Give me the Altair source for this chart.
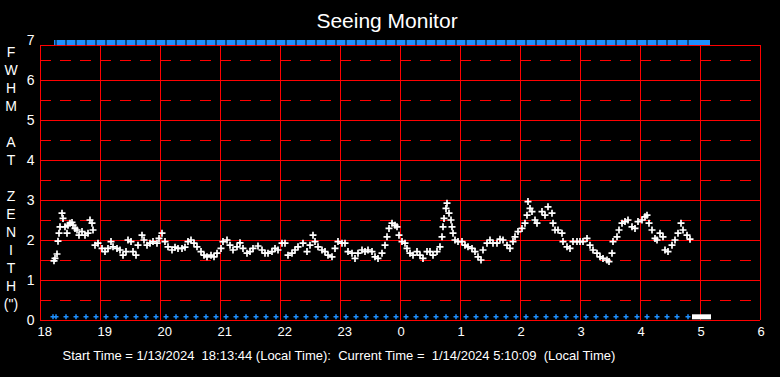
import altair as alt
import pandas as pd

# ---- data (minutes after 18:00, FWHM arcsec) ----
MINUTES = [14, 15, 17, 18, 19, 20, 22, 23, 25, 27, 28, 30, 32, 33, 35, 37, 39, 42, 45, 48,
           50, 52, 53, 55, 58, 62, 65, 68, 71, 73, 77, 80, 83, 86, 88, 91, 93, 96, 98, 102,
           104, 107, 110, 113, 117, 119, 122, 125, 128, 132, 135, 138, 142, 145, 148, 151, 154, 157, 161, 164,
           167, 171, 174, 177, 181, 183, 187, 190, 193, 197, 200, 203, 207, 210, 213, 218, 222, 225, 228, 232,
           235, 238, 242, 245, 248, 252, 255, 258, 263, 267, 270, 273, 275, 278, 282, 285, 288, 292, 295, 298,
           302, 305, 308, 312, 315, 318, 322, 325, 328, 332, 335, 338, 342, 345, 347, 349, 352, 355, 357, 359,
           362, 365, 367, 370, 373, 377, 380, 383, 387, 390, 393, 397, 400, 402, 403, 404, 406, 407, 409, 411,
           412, 413, 415, 418, 422, 425, 428, 432, 435, 438, 441, 443, 447, 450, 453, 457, 460, 463, 467, 470,
           473, 475, 478, 482, 485, 487, 488, 490, 492, 495, 497, 502, 505, 508, 512, 513, 515, 518, 522, 523,
           527, 530, 533, 537, 540, 543, 547, 550, 553, 557, 560, 563, 567, 569, 572, 573, 577, 579, 582, 585,
           588, 592, 595, 598, 602, 605, 607, 609, 612, 615, 617, 620, 623, 625, 628, 632, 635, 638, 641, 643,
           647, 650]
FWHM = [1.48, 1.54, 1.65, 1.97, 2.17, 2.33, 2.67, 2.54, 2.33, 2.17, 2.37, 2.42, 2.44, 2.37, 2.29, 2.25, 2.12, 2.21, 2.12, 2.17,
        2.50, 2.42, 2.25, 1.87, 1.92, 1.79, 1.71, 1.79, 1.96, 1.83, 1.79, 1.75, 1.62, 1.71, 2.00, 1.96, 1.71, 1.62, 1.87, 2.12,
        2.00, 1.87, 1.92, 1.96, 1.92, 2.04, 2.17, 1.96, 1.83, 1.75, 1.82, 1.79, 1.79, 1.82, 1.96, 2.00, 1.92, 1.83, 1.71, 1.62,
        1.58, 1.62, 1.58, 1.67, 1.79, 1.96, 2.00, 1.87, 1.75, 1.83, 1.93, 1.79, 1.67, 1.71, 1.79, 1.85, 1.75, 1.67, 1.67, 1.71,
        1.79, 1.75, 1.92, 1.92, 1.62, 1.67, 1.75, 1.83, 1.92, 1.71, 1.87, 2.12, 1.96, 1.83, 1.75, 1.71, 1.62, 1.58, 1.79, 1.96,
        1.92, 1.92, 1.71, 1.67, 1.54, 1.67, 1.75, 1.71, 1.75, 1.71, 1.58, 1.54, 1.67, 1.87, 2.08, 2.29, 2.42, 2.37, 2.33, 2.12,
        1.96, 1.92, 1.79, 1.67, 1.62, 1.71, 1.62, 1.54, 1.71, 1.71, 1.62, 1.71, 1.83, 2.08, 2.33, 2.54, 2.79, 2.92, 2.67, 2.50,
        2.33, 2.17, 2.00, 1.96, 1.96, 1.87, 1.83, 1.79, 1.71, 1.58, 1.50, 1.75, 1.92, 2.00, 1.92, 1.92, 2.02, 2.00, 1.87, 1.79,
        1.96, 2.08, 2.21, 2.29, 2.42, 2.62, 2.96, 2.79, 2.71, 2.50, 2.42, 2.71, 2.62, 2.83, 2.67, 2.42, 2.25, 2.25, 2.17, 1.96,
        1.83, 1.79, 1.96, 1.96, 1.96, 1.96, 2.04, 1.87, 1.75, 1.67, 1.58, 1.54, 1.50, 1.46, 1.67, 1.96, 2.08, 2.25, 2.42, 2.46,
        2.50, 2.33, 2.29, 2.46, 2.50, 2.58, 2.62, 2.42, 2.25, 2.04, 2.00, 2.17, 2.08, 1.75, 1.71, 1.87, 2.00, 2.17, 2.42, 2.25,
        2.12, 2.02]

BOTTOM_MARKS = [13, 16, 26, 36, 46, 56, 66, 76, 86, 96, 106, 116, 126, 136, 146, 156, 166, 176, 186, 196,
                206, 216, 226, 236, 246, 256, 266, 276, 286, 296, 306, 316, 326, 336, 346, 356, 366, 376, 386, 396,
                406, 416, 426, 436, 446, 456, 466, 476, 486, 496, 506, 516, 526, 536, 546, 556, 566, 576, 586, 597,
                607, 617, 627, 637, 648]
TOP_STATUS = [14, 670]
WHITE_STATUS = [652, 671]

HOURS = [18, 19, 20, 21, 22, 23, 24, 25, 26, 27, 28, 29, 30]
INT_LEVELS = [0, 1, 2, 3, 4, 5, 6]
HALF_LEVELS = [0.5, 1.5, 2.5, 3.5, 4.5, 5.5, 6.5]
Y_TICKS = [0, 1, 2, 3, 4, 5, 6, 7]
Y_TITLE = ["F", "W", "H", "M", "\u200b", "A", "T", "\u200b", "Z", "E", "N", "I", "T", "H", "(\")"]
BOTTOM_TEXT = ("Start Time = 1/13/2024\u00a0 18:13:44 (Local Time):\u00a0 Current Time =\u00a0 "
               "1/14/2024 5:10:09\u00a0 (Local Time)")
TITLE = "Seeing Monitor"

# ---- style constants ----
FRAME_TOP = 6.875
TOP_ROW = 6.94
BOTTOM_ROW = 0.08
RED = "#ff0000"
BLUE = "#1e90ff"
WHITE = "#ffffff"
FONT = "Liberation Sans"
CROSS = "M-1,0H1M0,-1V1"
VBAR = "M0,-1V1"


def hrs(m):
    return 18 + m / 60.0


xs = alt.Scale(domain=[18, 30], nice=False, zero=False)
ys = alt.Scale(domain=[0, 7], nice=False, zero=False)

X_AXIS = alt.Axis(
    values=HOURS, labelExpr="'' + (datum.value >= 24 ? datum.value - 24 : datum.value)",
    grid=False, ticks=False, tickSize=0, domain=False,
    labelColor=WHITE, labelFont=FONT, labelFontSize=13, labelAlign="left", labelOffset=-3,
    labelBaseline="top", labelPadding=5, labelFlush=False, labelOverlap=False,
    title=BOTTOM_TEXT, titleColor=WHITE, titleFont=FONT, titleFontSize=13, titleFontWeight="normal",
    titleAlign="left", titleAnchor="start", titleX=22, titleY=39.5, titleBaseline="alphabetic")
Y_AXIS = alt.Axis(
    values=Y_TICKS, grid=False, ticks=False, tickSize=0, domain=False,
    labelColor=WHITE, labelFont=FONT, labelFontSize=14, labelPadding=6, labelFlush=False,
    labelOverlap=False,
    title=Y_TITLE, titleColor=WHITE, titleFont=FONT, titleFontSize=14, titleFontWeight="normal",
    titleAngle=0, titleAlign="center", titleX=-29.5, titleY=16.5, titleBaseline="alphabetic",
    titleLineHeight=18)


def X(field):
    return alt.X(field, scale=xs, axis=X_AXIS)


def Y(field):
    return alt.Y(field, scale=ys, axis=Y_AXIS)


pts = pd.DataFrame({"h": [hrs(m) for m in MINUTES], "v": FWHM})

vgrid = alt.Chart(pd.DataFrame({"h": HOURS, "y0": 0.0, "y1": FRAME_TOP})).mark_rule(
    color=RED, strokeWidth=1, xOffset=0.5
).encode(x=X("h:Q"), y=Y("y0:Q"), y2="y1:Q")

hgrid = alt.Chart(pd.DataFrame({"v": INT_LEVELS + [FRAME_TOP], "x0": 18.0, "x1": 30.0})).mark_rule(
    color=RED, strokeWidth=1, yOffset=0.5
).encode(x=X("x0:Q"), x2="x1:Q", y=Y("v:Q"))

dgrid = alt.Chart(pd.DataFrame({"v": HALF_LEVELS, "x0": 18.0, "x1": 30.0})).mark_rule(
    color=RED, strokeWidth=1, yOffset=0.5, strokeDash=[11, 9]
).encode(x=X("x0:Q"), x2="x1:Q", y=Y("v:Q"))

top_band = alt.Chart(pd.DataFrame({"h0": [hrs(TOP_STATUS[0])], "h1": [hrs(TOP_STATUS[1])], "v": [TOP_ROW]})).mark_rule(
    color=BLUE, strokeWidth=5
).encode(x=X("h0:Q"), x2="h1:Q", y=Y("v:Q"))

top_sep = alt.Chart(pd.DataFrame({"h": [hrs(m) for m in BOTTOM_MARKS[1:]], "v": TOP_ROW})).mark_point(
    shape=VBAR, filled=False, stroke="#000000", strokeWidth=1, size=36, opacity=1
).encode(x=X("h:Q"), y=Y("v:Q"))

bottom = alt.Chart(pd.DataFrame({"h": [hrs(m) for m in BOTTOM_MARKS], "v": BOTTOM_ROW})).mark_point(
    shape=CROSS, filled=False, stroke=BLUE, strokeWidth=1.5, size=25, opacity=1
).encode(x=X("h:Q"), y=Y("v:Q"))

white_band = alt.Chart(pd.DataFrame({"h0": [hrs(WHITE_STATUS[0])], "h1": [hrs(WHITE_STATUS[1])], "v": [BOTTOM_ROW]})).mark_rule(
    color=WHITE, strokeWidth=5
).encode(x=X("h0:Q"), x2="h1:Q", y=Y("v:Q"))

data_pts = alt.Chart(pts).mark_point(
    shape=CROSS, filled=False, stroke=WHITE, strokeWidth=1.7, size=49, opacity=1
).encode(x=X("h:Q"), y=Y("v:Q"))

chart = alt.layer(vgrid, hgrid, dgrid, top_band, top_sep, bottom, white_band, data_pts).properties(
    width=720, height=280,
    autosize=alt.AutoSizeParams(type="none"),
    padding={"left": 40, "top": 40, "right": 20, "bottom": 57},
    background="#000000",
    title=alt.TitleParams(TITLE, color=WHITE, font=FONT, fontSize=21, fontWeight="normal",
                          anchor="middle", dx=-13, dy=3),
).configure_view(strokeWidth=0)

chart.save("out.html", embed_options={"renderer": "svg", "actions": False})
